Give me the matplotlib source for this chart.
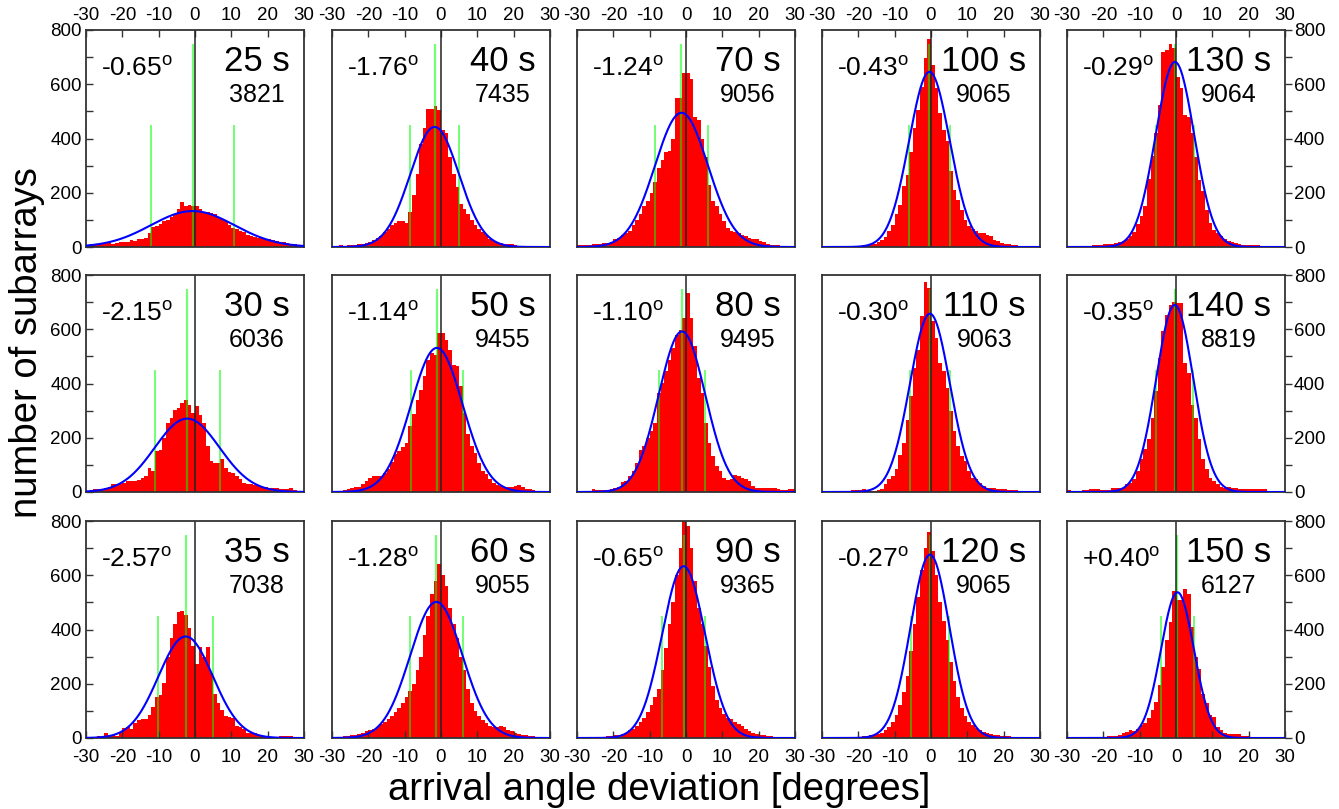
import numpy as np
import matplotlib.pyplot as plt

plt.rcParams['font.family'] = ['Liberation Sans', 'DejaVu Sans']
plt.rcParams['mathtext.fontset'] = 'custom'
plt.rcParams['mathtext.rm'] = 'Liberation Sans'
plt.rcParams['axes.unicode_minus'] = False

# ----------------------------
# DATA
# ----------------------------
edges = np.arange(-30, 31, 1)   # 1 degree bins

# panels in reading order (3 rows x 5 columns)
periods = [25, 40, 70, 100, 130,
           30, 50, 80, 110, 140,
           35, 60, 90, 120, 150]
means = [-0.65, -1.76, -1.24, -0.43, -0.29,
         -2.15, -1.14, -1.10, -0.30, -0.35,
         -2.57, -1.28, -0.65, -0.27, 0.40]
counts = [3821, 7435, 9056, 9065, 9064,
          6036, 9455, 9495, 9063, 8819,
          7038, 9055, 9365, 9065, 6127]
sigmas = [11.5, 6.7, 7.3, 5.6, 5.3,
          8.9, 7.1, 6.4, 5.5, 5.1,
          7.5, 7.2, 5.9, 5.35, 4.55]

h25 = [8, 10, 12, 12, 15, 18, 14, 12, 15, 20, 18, 20, 25, 22, 28,
       30, 35, 50, 75, 78, 85, 95, 100, 110, 120, 140, 165, 150, 155, 150,
       150, 140, 130, 130, 125, 120, 110, 105, 95, 80, 70, 65, 60, 55, 45,
       40, 38, 35, 35, 30, 28, 25, 22, 20, 18, 15, 12, 10, 8, 5]
h40 = [5, 5, 6, 5, 6, 8, 8, 10, 12, 15, 20, 25, 32, 40, 55,
       65, 80, 90, 95, 95, 90, 130, 190, 270, 380, 440, 510, 510, 520, 505,
       430, 420, 330, 270, 220, 160, 140, 120, 100, 80, 65, 55, 45, 30, 22,
       18, 14, 12, 10, 10, 6, 5, 4, 4, 4, 5, 5, 5, 4, 3]
h70 = [8, 8, 9, 8, 10, 12, 12, 14, 15, 18, 28, 35, 45, 50, 60,
       80, 100, 120, 150, 170, 200, 240, 290, 320, 350, 355, 400, 550, 550, 640,
       640, 620, 480, 470, 400, 330, 230, 170, 150, 120, 95, 70, 60, 55, 50,
       45, 40, 35, 30, 28, 22, 18, 10, 8, 6, 6, 4, 3, 3, 2]
h100 = [0, 2, 2, 3, 5, 5, 4, 3, 5, 5, 5, 6, 8, 10, 12,
        18, 25, 37, 60, 80, 120, 155, 225, 265, 350, 440, 505, 590, 695, 765,
        670, 585, 495, 430, 390, 280, 210, 175, 137, 100, 76, 65, 60, 50, 50,
        45, 40, 27, 22, 15, 12, 10, 8, 6, 4, 2, 1, 1, 0, 0]
h130 = [2, 2, 3, 3, 4, 4, 5, 6, 6, 8, 10, 12, 12, 15, 17,
        22, 30, 40, 55, 85, 115, 150, 250, 335, 420, 525, 720, 727, 750, 733,
        628, 585, 487, 480, 420, 333, 248, 205, 137, 88, 64, 52, 40, 30, 22,
        18, 14, 10, 9, 8, 7, 6, 6, 5, 5, 5, 5, 4, 4, 5]
h30 = [5, 8, 10, 10, 12, 14, 20, 28, 30, 30, 35, 40, 40, 42, 45,
       53, 60, 90, 77, 150, 155, 200, 255, 273, 304, 310, 328, 340, 322, 292,
       316, 285, 255, 169, 114, 108, 108, 120, 90, 74, 69, 59, 47, 34, 30,
       28, 26, 22, 20, 18, 15, 15, 14, 12, 12, 12, 14, 8, 4, 3]
h50 = [3, 4, 5, 8, 10, 14, 18, 20, 28, 40, 50, 58, 60, 60, 70,
       85, 110, 140, 150, 165, 181, 243, 286, 340, 377, 426, 487, 512, 506, 586,
       586, 561, 524, 469, 463, 390, 292, 212, 169, 145, 108, 77, 65, 49, 34,
       26, 22, 16, 18, 20, 22, 24, 18, 12, 10, 8, 5, 4, 3, 3]
h80 = [2, 2, 3, 4, 12, 7, 7, 6, 7, 12, 16, 20, 37, 40, 59,
       77, 108, 153, 169, 200, 224, 255, 365, 402, 445, 488, 530, 580, 598, 640,
       733, 640, 537, 420, 365, 255, 181, 132, 96, 77, 53, 44, 47, 61, 59,
       53, 49, 40, 22, 15, 15, 13, 13, 13, 14, 10, 8, 7, 10, 12]
h110 = [1, 1, 2, 2, 2, 3, 3, 3, 6, 6, 8, 10, 5, 5, 5,
        8, 12, 28, 47, 59, 83, 138, 181, 267, 353, 457, 524, 650, 776, 751,
        629, 567, 475, 445, 384, 298, 224, 169, 132, 114, 77, 53, 47, 34, 22,
        16, 16, 14, 12, 12, 10, 8, 7, 6, 5, 4, 4, 3, 3, 3]
h140 = [7, 3, 2, 2, 7, 8, 10, 12, 12, 8, 7, 7, 16, 13, 13,
        15, 28, 34, 47, 77, 120, 157, 194, 273, 371, 494, 592, 653, 690, 702,
        696, 696, 475, 439, 322, 273, 194, 120, 83, 53, 40, 28, 20, 16, 20,
        13, 13, 10, 10, 10, 10, 10, 10, 12, 10, 5, 5, 5, 5, 5]
h35 = [2, 2, 3, 7, 3, 17, 11, 11, 8, 23, 38, 42, 32, 54, 66,
       70, 70, 85, 115, 152, 158, 201, 299, 367, 422, 465, 467, 453, 404, 339,
       272, 336, 300, 334, 238, 164, 130, 103, 81, 79, 72, 44, 39, 32, 17,
       22, 17, 12, 7, 3, 4, 5, 5, 6, 7, 7, 7, 5, 4, 4]
h60 = [3, 4, 5, 6, 8, 10, 12, 15, 20, 25, 30, 35, 40, 50, 60,
       70, 80, 95, 110, 130, 150, 175, 200, 250, 300, 380, 450, 530, 580, 640,
       600, 560, 480, 420, 370, 300, 250, 180, 130, 100, 80, 65, 55, 45, 40,
       40, 45, 40, 30, 25, 20, 15, 12, 10, 8, 6, 5, 4, 3, 3]
h90 = [1, 1, 2, 2, 3, 3, 4, 5, 6, 8, 10, 12, 15, 20, 28,
       35, 45, 60, 75, 95, 120, 150, 180, 250, 330, 420, 500, 600, 700, 810,
       780, 700, 580, 480, 420, 340, 260, 190, 140, 110, 90, 75, 70, 60, 50,
       45, 35, 25, 20, 15, 12, 10, 8, 6, 5, 4, 3, 3, 2, 2]
h120 = [1, 1, 1, 2, 2, 2, 3, 3, 4, 5, 5, 6, 8, 10, 12,
        15, 20, 28, 40, 60, 85, 120, 170, 230, 320, 420, 520, 620, 700, 760,
        690, 600, 500, 430, 360, 280, 210, 150, 110, 80, 60, 48, 38, 30, 22,
        18, 15, 12, 10, 8, 7, 6, 5, 4, 4, 3, 3, 2, 2, 2]
h150 = [1, 1, 1, 2, 2, 2, 2, 2, 2, 2, 5, 7, 7, 8, 11,
        17, 21, 29, 27, 32, 48, 56, 72, 103, 134, 195, 263, 361, 428, 542,
        508, 508, 551, 532, 410, 299, 253, 164, 130, 85, 79, 42, 29, 17, 13,
        15, 15, 15, 7, 7, 3, 2, 2, 2, 2, 2, 2, 2, 2, 2]

hists = [h25, h40, h70, h100, h130,
         h30, h50, h80, h110, h140,
         h35, h60, h90, h120, h150]

# ----------------------------
# FIGURE
# ----------------------------
W, H = 1339, 809
fig = plt.figure(figsize=(W / 100, H / 100), dpi=100)

lefts = [86, 332, 577, 822, 1067]
tops = [30, 275, 521]
aw, ah = 218, 217

xs = np.linspace(-30, 30, 601)
period_texts = []

for k in range(15):
    row, col = divmod(k, 5)
    ax = fig.add_axes([lefts[col] / W, (H - tops[row] - ah) / H, aw / W, ah / H])
    m, s, n = means[k], sigmas[k], counts[k]

    ax.stairs(hists[k], edges, fill=True, color='#ff0000', lw=0, zorder=1)
    ax.vlines([m - s, m + s], 0, 450, color='#00ff00', alpha=0.55, lw=1.4, zorder=2)
    ax.vlines(m, 0, 750, color='#00ff00', alpha=0.55, lw=1.6, zorder=2)
    ax.axvline(0, color='#222222', lw=1.1, zorder=2.5)
    gauss = n / (s * np.sqrt(2 * np.pi)) * np.exp(-(xs - m) ** 2 / (2 * s ** 2))
    ax.plot(xs, gauss, color='#0000ff', lw=1.5, zorder=3)

    ax.set_xlim(-30, 30)
    ax.set_ylim(0, 800)
    ax.set_xticks(range(-30, 31, 10))
    ax.set_yticks(range(0, 801, 200))
    ax.set_yticks(range(100, 800, 200), minor=True)
    ax.xaxis.set_minor_locator(plt.NullLocator())
    for sp in ax.spines.values():
        sp.set_color('#333333')
        sp.set_linewidth(1.3)

    ax.tick_params(axis='x', which='both', direction='in', length=5, width=1,
                   color='#333333', labelsize=13.5,
                   top=(row == 0), bottom=(row == 2),
                   labeltop=(row == 0), labelbottom=(row == 2),
                   pad=(4 if row == 0 else 8))
    ax.tick_params(axis='y', which='both', length=5, width=1, color='#333333',
                   labelsize=13.5, left=(col == 0), right=(col == 4),
                   labelleft=(col == 0), labelright=(col == 4), pad=3)
    if col == 0:
        ax.tick_params(axis='y', which='both', direction='in')
    if col == 4:
        ax.tick_params(axis='y', which='both', direction='out', pad=1.5)

    label = (f"{m:+.2f}" if m > 0 else f"{m:.2f}") + r"$^{\mathrm{o}}$"
    ax.text(0.07, 0.825, label, transform=ax.transAxes, fontsize=19,
            ha='left', va='center')
    t = ax.text(0.935, 0.857, f"{periods[k]} s", transform=ax.transAxes,
                fontsize=25, ha='right', va='center')
    period_texts.append((ax, t, n))

# centre the count under its period label
fig.canvas.draw()
r = fig.canvas.get_renderer()
for ax, t, n in period_texts:
    bb = t.get_window_extent(r).transformed(ax.transAxes.inverted())
    ax.text((bb.x0 + bb.x1) / 2, 0.70, str(n), transform=ax.transAxes,
            fontsize=18, ha='center', va='center')

fig.text(0.492, 0.024, "arrival angle deviation [degrees]", fontsize=27.5,
         ha='center', va='center')
fig.text(0.020, 0.577, "number of subarrays", fontsize=27.5, rotation=90,
         ha='center', va='center')

fig.savefig("out.png", dpi=100)
